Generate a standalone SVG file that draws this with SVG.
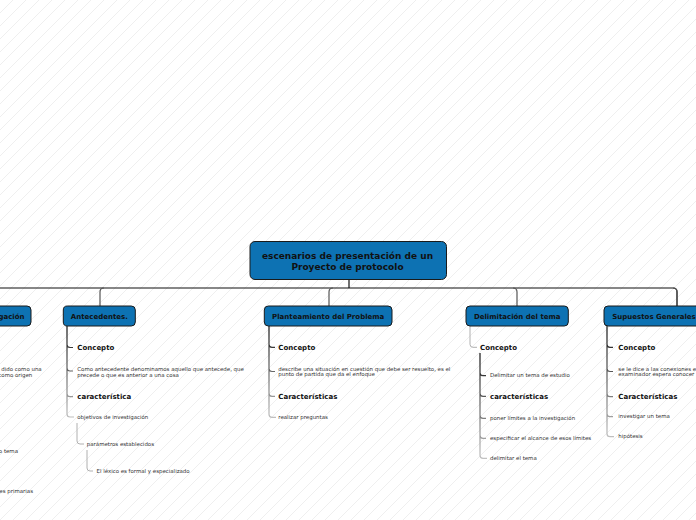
<svg xmlns="http://www.w3.org/2000/svg" width="696" height="520" viewBox="0 0 696 520">
<defs>
<pattern id="hatch" patternUnits="userSpaceOnUse" width="13" height="13">
<path d="M-1 14 L14 -1 M-1 1 L1 -1 M12 14 L14 12" stroke="#ebebeb" stroke-width="0.8"/>
</pattern>
<linearGradient id="gA" gradientUnits="userSpaceOnUse" x1="0" y1="326" x2="0" y2="420"><stop offset="0" stop-color="#111"/><stop offset="1" stop-color="#c4c4c4"/></linearGradient>
<linearGradient id="gP" gradientUnits="userSpaceOnUse" x1="0" y1="326" x2="0" y2="420"><stop offset="0" stop-color="#111"/><stop offset="1" stop-color="#c4c4c4"/></linearGradient>
<linearGradient id="gD" gradientUnits="userSpaceOnUse" x1="0" y1="353" x2="0" y2="460"><stop offset="0" stop-color="#111"/><stop offset="1" stop-color="#c4c4c4"/></linearGradient>
<linearGradient id="gS" gradientUnits="userSpaceOnUse" x1="0" y1="326" x2="0" y2="440"><stop offset="0" stop-color="#111"/><stop offset="1" stop-color="#c4c4c4"/></linearGradient>
</defs>
<style>
text{font-family:"DejaVu Sans",Verdana,sans-serif;fill:#111}
.box{fill:#0d72b3;stroke:#1a1a1a;stroke-width:1}
.nt{font-size:7px;font-weight:bold;text-anchor:middle}
.title{font-size:9px;font-weight:bold;text-anchor:middle}
.lb{font-size:7px;font-weight:bold}
.sm{font-size:5.45px;fill:#333}
.main{fill:none;stroke:#111;stroke-width:1.2}
.drop{fill:none;stroke:#555;stroke-width:1.2}
.br{fill:none;stroke-width:1.2}
.lt{fill:none;stroke:#b0b0b0;stroke-width:1}
</style>
<rect width="696" height="520" fill="#ffffff"/>
<rect width="696" height="520" fill="url(#hatch)"/>

<g id="connectors">
<path class="main" d="M0 288 H673 q4 0 4 4 V306"/>
<path class="main" d="M349 279.5 V288"/>
<path class="drop" d="M104 288 q-4 0 -4 4 V306"/>
<path class="drop" d="M333 288 q-4 0 -4 4 V306"/>
<path class="drop" d="M513 288 q4 0 4 4 V306"/>
<path class="drop" d="M673 288 q4 0 4 4 V306"/>

<path class="br" stroke="url(#gA)" d="M67 326 V414 q0 3 3 3 h4 M67 344.5 q0 3 3 3 h3 M67 368 q0 3 3 3 h3 M67 393.7 q0 3 3 3 h3"/>
<path class="lt" d="M77 423 V441 q0 3 3 3 h4"/>
<path class="lt" d="M87 450 V468 q0 3 3 3 h3"/>

<path class="br" stroke="url(#gP)" d="M269 326 V414.3 q0 3 3 3 h4 M269 344.3 q0 3 3 3 h3 M269 368.5 q0 3 3 3 h3 M269 393.3 q0 3 3 3 h3"/>

<path class="lt" d="M470 326 V344.3 q0 3 3 3 h4"/>
<path class="br" stroke="url(#gD)" d="M480 353 V455.3 q0 3 3 3 h4 M480 372.7 q0 3 3 3 h3 M480 393.3 q0 3 3 3 h3 M480 415.3 q0 3 3 3 h3 M480 435.3 q0 3 3 3 h3"/>

<path class="br" stroke="url(#gS)" d="M607 326 V433.7 q0 3 3 3 h4 M607 344.3 q0 3 3 3 h3 M607 368.5 q0 3 3 3 h3 M607 393.7 q0 3 3 3 h3 M607 413.7 q0 3 3 3 h3"/>
</g>

<g id="root">
<rect class="box" x="250" y="241.5" width="196.5" height="38" rx="5"/>
<text class="title" x="347.5" y="259">escenarios de presentación de un</text>
<text class="title" x="347.5" y="270">Proyecto de protocolo</text>
</g>

<g id="node-left">
<rect class="box" x="-60" y="306" width="91" height="20" rx="4"/>
<text class="lb" x="24.5" y="319" text-anchor="end">gación</text>
<text class="sm" x="41.7" y="370.6" text-anchor="end">dido como una</text>
<text class="sm" x="32.3" y="376.6" text-anchor="end">como origen</text>
<text class="sm" x="18" y="452.6" text-anchor="end">o tema</text>
<text class="sm" x="33" y="492.6" text-anchor="end">es primarias</text>
</g>

<g id="node-antecedentes">
<rect class="box" x="63.3" y="306" width="72" height="20" rx="4"/>
<text class="nt" x="99.3" y="319">Antecedentes.</text>
<text class="lb" x="77.3" y="350">Concepto</text>
<text class="sm" x="77.3" y="370.6">Como antecedente denominamos aquello que antecede, que</text>
<text class="sm" x="77.3" y="376.6">precede o que es anterior a una cosa</text>
<text class="lb" x="77.3" y="399.2">característica</text>
<text class="sm" x="77.3" y="418.6">objetivos de investigación</text>
<text class="sm" x="86.8" y="445.6">parámetros establecidos</text>
<text class="sm" x="96.5" y="472.6">El léxico es formal y especializado</text>
</g>

<g id="node-planteamiento">
<rect class="box" x="264.3" y="306" width="127.7" height="20" rx="4"/>
<text class="nt" x="328.2" y="319">Planteamiento del Problema</text>
<text class="lb" x="278.3" y="349.8">Concepto</text>
<text class="sm" x="278.3" y="370.5">describe una situación en cuestión que debe ser resuelto, es el</text>
<text class="sm" x="278.3" y="376.2">punto de partida que da el enfoque</text>
<text class="lb" x="278.3" y="398.8">Características</text>
<text class="sm" x="278.3" y="418.9">realizar preguntas</text>
</g>

<g id="node-delimitacion">
<rect class="box" x="466" y="306" width="102.3" height="20" rx="4"/>
<text class="nt" x="517.2" y="319">Delimitación del tema</text>
<text class="lb" x="480" y="349.8">Concepto</text>
<text class="sm" x="490" y="377.3">Delimitar un tema de estudio</text>
<text class="lb" x="490" y="398.8">características</text>
<text class="sm" x="490" y="419.9">poner límites a la investigación</text>
<text class="sm" x="490" y="439.9">especificar el alcance de esos límites</text>
<text class="sm" x="490" y="459.9">delimitar el tema</text>
</g>

<g id="node-supuestos">
<rect class="box" x="604" y="306" width="120" height="20" rx="4"/>
<text class="lb" x="612.3" y="319">Supuestos Generales</text>
<text class="lb" x="618.3" y="349.8">Concepto</text>
<text class="sm" x="618.3" y="370.6">se le dice a las conexiones e</text>
<text class="sm" x="618.3" y="376.2">examinador espera conocer</text>
<text class="lb" x="618.3" y="399.2">Características</text>
<text class="sm" x="618.3" y="418.3">investigar un tema</text>
<text class="sm" x="618.3" y="438.3">hipótesis</text>
</g>
</svg>
